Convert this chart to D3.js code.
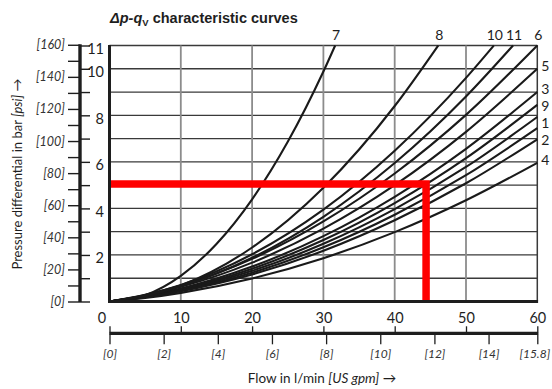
<!DOCTYPE html>
<html>
<head>
<meta charset="utf-8">
<script src="https://cdn.jsdelivr.net/npm/d3@7"></script>
<style>
  body { margin: 0; background: #fff; }
  figure { margin: 0; }
  svg text { font-family: Lato, "Noto Sans", sans-serif; fill: #1e1e1e; }
</style>
</head>
<body>
<figure id="chart"></figure>
<script>
// values (flow in l/min, pressure in bar)
const flowSteps = [0, 5, 10, 20, 30, 40, 50, 60];

// curves that leave the chart on the right edge (60 l/min)
const rightCurveNames = ["6", "5", "3", "9", "1", "", "2", "4"];
const rightCurveValues = [
  [0, 0.29, 0.69, 1.83, 3.44, 5.50, 8.02, 11.0],
  [0, 0.26, 0.63, 1.67, 3.13, 5.00, 7.29, 10.0],
  [0, 0.23, 0.56, 1.50, 2.81, 4.50, 6.56, 9.00],
  [0, 0.22, 0.53, 1.41, 2.64, 4.23, 6.16, 8.45],
  [0, 0.21, 0.50, 1.32, 2.48, 3.97, 5.78, 7.93],
  [0, 0.19, 0.47, 1.24, 2.33, 3.73, 5.43, 7.45],
  [0, 0.18, 0.44, 1.16, 2.18, 3.49, 5.08, 6.97],
  [0, 0.15, 0.37, 0.99, 1.86, 2.98, 4.35, 5.96]
];

// curves that leave the chart at the top (11 bar)
const topCurveNames = ["7", "8", "10", "11"];
const topCurveFlows = [
  [0, 5, 10, 15, 20, 25, 30, 31.65],
  [0, 5, 10, 20, 30, 40, 46.1],
  [0, 5, 10, 20, 30, 40, 50, 53.9],
  [0, 5, 10, 20, 30, 40, 50, 56.6]
];
const topCurveValues = [
  [0, 0.27, 1.10, 2.47, 4.39, 6.86, 9.88, 11.0],
  [0, 0.23, 0.69, 2.32, 4.89, 8.40, 11.0],
  [0, 0.28, 0.71, 2.03, 3.95, 6.48, 9.61, 11.0],
  [0, 0.26, 0.66, 1.88, 3.64, 5.95, 8.81, 11.0]
];

// red operating point
const opFlow = 44.4;
const opPressure = 5.05;

const barTicks = d3.range(0, 12);
const barLabels = [2, 4, 6, 8, 10, 11];
const psiTicks = d3.range(0, 161, 10);
const psiLabels = d3.range(0, 161, 20);
const flowTicks = [0, 10, 20, 30, 40, 50, 60];
const gpmTicks = [0, 2, 4, 6, 8, 10, 12, 14, 15.8];

const PSI_PER_BAR = 14.5038;
const LPM_PER_GPM = 60 / 15.8;

const width = 552, height = 389;

const x = d3.scaleLinear().domain([0, 60]).range([109.5, 537.3]);
const y = d3.scaleLinear().domain([0, 11]).range([301.5, 45.5]);
const psi = d3.scaleLinear().domain([0, 11 * PSI_PER_BAR]).range([301.5, 45.5]);
const gpm = d3.scaleLinear().domain([0, 60 / LPM_PER_GPM]).range([109.5, 537.3]);

const svg = d3.select("#chart").append("svg")
  .attr("width", width)
  .attr("height", height);

// title
const title = svg.append("text")
  .attr("x", 110).attr("y", 23)
  .style("font-family", "'Liberation Sans', Arial, sans-serif")
  .style("font-size", "14.5px")
  .style("font-weight", "bold");
title.append("tspan").style("font-style", "italic").text("Δp-q");
title.append("tspan").attr("dy", 3).style("font-size", "9.5px").text("V");
title.append("tspan").attr("dy", -3).text(" characteristic curves");

// grid
svg.append("g").selectAll("line")
  .data(d3.range(1, 12))
  .enter().append("line")
  .attr("x1", x(0)).attr("x2", x(60))
  .attr("y1", d => y(d)).attr("y2", d => y(d))
  .attr("stroke", "#3a3a3a")
  .attr("stroke-width", 1.3);

svg.append("g").selectAll("line")
  .data(flowTicks.slice(1, -1))
  .enter().append("line")
  .attr("x1", d => x(d)).attr("x2", d => x(d))
  .attr("y1", y(11)).attr("y2", y(0))
  .attr("stroke", "#8c8c8c")
  .attr("stroke-width", 1.8);

svg.append("line")
  .attr("x1", x(60)).attr("x2", x(60))
  .attr("y1", y(11) - 0.6).attr("y2", y(0))
  .attr("stroke", "#3a3a3a").attr("stroke-width", 1.5);

// curves
const line = d3.line()
  .x(d => x(d[0]))
  .y(d => y(d[1]))
  .curve(d3.curveMonotoneX);

const curves = [];
rightCurveNames.forEach((name, i) => {
  curves.push({ name: name, points: flowSteps.map((f, j) => [f, rightCurveValues[i][j]]) });
});
topCurveNames.forEach((name, i) => {
  curves.push({ name: name, points: topCurveFlows[i].map((f, j) => [f, topCurveValues[i][j]]) });
});

svg.append("g").selectAll("path")
  .data(curves)
  .enter().append("path")
  .attr("d", d => line(d.points))
  .attr("fill", "none")
  .attr("stroke", "#1a1a1a")
  .attr("stroke-width", 2.1);

// curve labels: top ones above the end, right ones pushed apart so they don't collide
const lastPoint = d => d.points[d.points.length - 1];
const topLabelled = curves.filter(d => d.name !== "" && lastPoint(d)[1] >= 11);
const rightLabelled = curves.filter(d => d.name !== "" && lastPoint(d)[1] < 11)
  .sort((a, b) => lastPoint(b)[1] - lastPoint(a)[1]);

let prevY = -Infinity;
rightLabelled.forEach(d => {
  d.labelY = Math.max(y(lastPoint(d)[1]) - 3, prevY + 17);
  prevY = d.labelY;
});

svg.append("g").selectAll("text")
  .data(topLabelled)
  .enter().append("text")
  .attr("x", d => x(lastPoint(d)[0]) + 1)
  .attr("y", 40)
  .attr("text-anchor", "middle")
  .style("font-size", "14px")
  .text(d => d.name);

svg.append("g").selectAll("text")
  .data(rightLabelled)
  .enter().append("text")
  .attr("x", x(60) + 4)
  .attr("y", d => d.labelY)
  .attr("dy", "0.36em")
  .style("font-size", "14px")
  .text(d => d.name);

// red operating point lines
svg.append("path")
  .attr("d", line.curve(d3.curveLinear)([[0, opPressure], [opFlow, opPressure], [opFlow, 0]]))
  .attr("fill", "none")
  .attr("stroke", "#ff0000")
  .attr("stroke-width", 7.5)
  .attr("stroke-linejoin", "miter");

// plot axes (thick)
svg.append("line")
  .attr("x1", x(0)).attr("x2", x(0))
  .attr("y1", y(11) - 0.6).attr("y2", y(0) + 1.5)
  .attr("stroke", "#1e1e1e").attr("stroke-width", 3);
svg.append("line")
  .attr("x1", x(0) - 1.5).attr("x2", x(60) + 0.8)
  .attr("y1", y(0)).attr("y2", y(0))
  .attr("stroke", "#1e1e1e").attr("stroke-width", 3);

// psi axis
const psiAxis = svg.append("g")
  .attr("transform", "translate(80,0)")
  .call(d3.axisLeft(psi).tickValues(psiTicks).tickSize(12).tickPadding(3)
    .tickFormat(d => psiLabels.includes(d) ? "[" + d + "]" : ""));
psiAxis.select(".domain").remove();
psiAxis.selectAll(".tick line").attr("stroke", "#1e1e1e").attr("stroke-width", 1.4);
psiAxis.selectAll("text")
  .style("font-size", "12.5px").style("font-style", "italic").style("fill", "#333");

// bar ticks to the right of the psi line
const barAxis = svg.append("g")
  .attr("transform", "translate(80,0)")
  .call(d3.axisRight(y).tickValues(barTicks).tickSize(10)
    .tickFormat(d => barLabels.includes(d) ? d : ""));
barAxis.select(".domain").remove();
barAxis.selectAll(".tick line").attr("stroke", "#1e1e1e").attr("stroke-width", 1.4);
barAxis.selectAll("text")
  .attr("x", 24).attr("dy", "0.55em")
  .attr("text-anchor", "end")
  .style("font-size", "14.5px");

svg.append("line")
  .attr("x1", 80).attr("x2", 80)
  .attr("y1", psi(160) - 0.5).attr("y2", y(0) + 0.5)
  .attr("stroke", "#1e1e1e").attr("stroke-width", 3.4);

// flow labels under the plot
const flowAxis = svg.append("g")
  .attr("transform", "translate(0," + y(0) + ")")
  .call(d3.axisBottom(x).tickValues(flowTicks).tickSize(0).tickPadding(11));
flowAxis.select(".domain").remove();
flowAxis.selectAll("text")
  .attr("dx", d => d === 0 ? -8 : 0)
  .style("font-size", "14.5px");

// gpm axis
const gpmY = 333.3;
const upTicks = svg.append("g")
  .attr("transform", "translate(0," + gpmY + ")")
  .call(d3.axisTop(x).tickValues(flowTicks).tickSize(7).tickFormat(""));
upTicks.select(".domain").remove();
upTicks.selectAll(".tick line").attr("stroke", "#1e1e1e").attr("stroke-width", 1.3);

const gpmAxis = svg.append("g")
  .attr("transform", "translate(0," + gpmY + ")")
  .call(d3.axisBottom(gpm).tickValues(gpmTicks).tickSize(11).tickPadding(5)
    .tickFormat(d => "[" + d + "]"));
gpmAxis.select(".domain").remove();
gpmAxis.selectAll(".tick line").attr("stroke", "#1e1e1e").attr("stroke-width", 1.3);
gpmAxis.selectAll("text")
  .attr("dx", d => d === 15.8 ? -3 : 0)
  .style("font-size", "12px").style("font-style", "italic").style("fill", "#333");

svg.append("line")
  .attr("x1", x(0)).attr("x2", x(60) + 0.8)
  .attr("y1", gpmY).attr("y2", gpmY)
  .attr("stroke", "#1e1e1e").attr("stroke-width", 3.2);

// axis titles
const xTitle = svg.append("text")
  .attr("x", 322).attr("y", 383)
  .attr("text-anchor", "middle")
  .style("font-size", "13.5px");
xTitle.append("tspan").text("Flow in l/min ");
xTitle.append("tspan").style("font-style", "italic").text("[US gpm]");
xTitle.append("tspan").text(" →");

const yTitle = svg.append("text")
  .attr("transform", "translate(22,174) rotate(-90)")
  .attr("text-anchor", "middle")
  .style("font-size", "13px");
yTitle.append("tspan").text("Pressure differential in bar ");
yTitle.append("tspan").style("font-style", "italic").text("[psi]");
yTitle.append("tspan").text(" →");
</script>
</body>
</html>
